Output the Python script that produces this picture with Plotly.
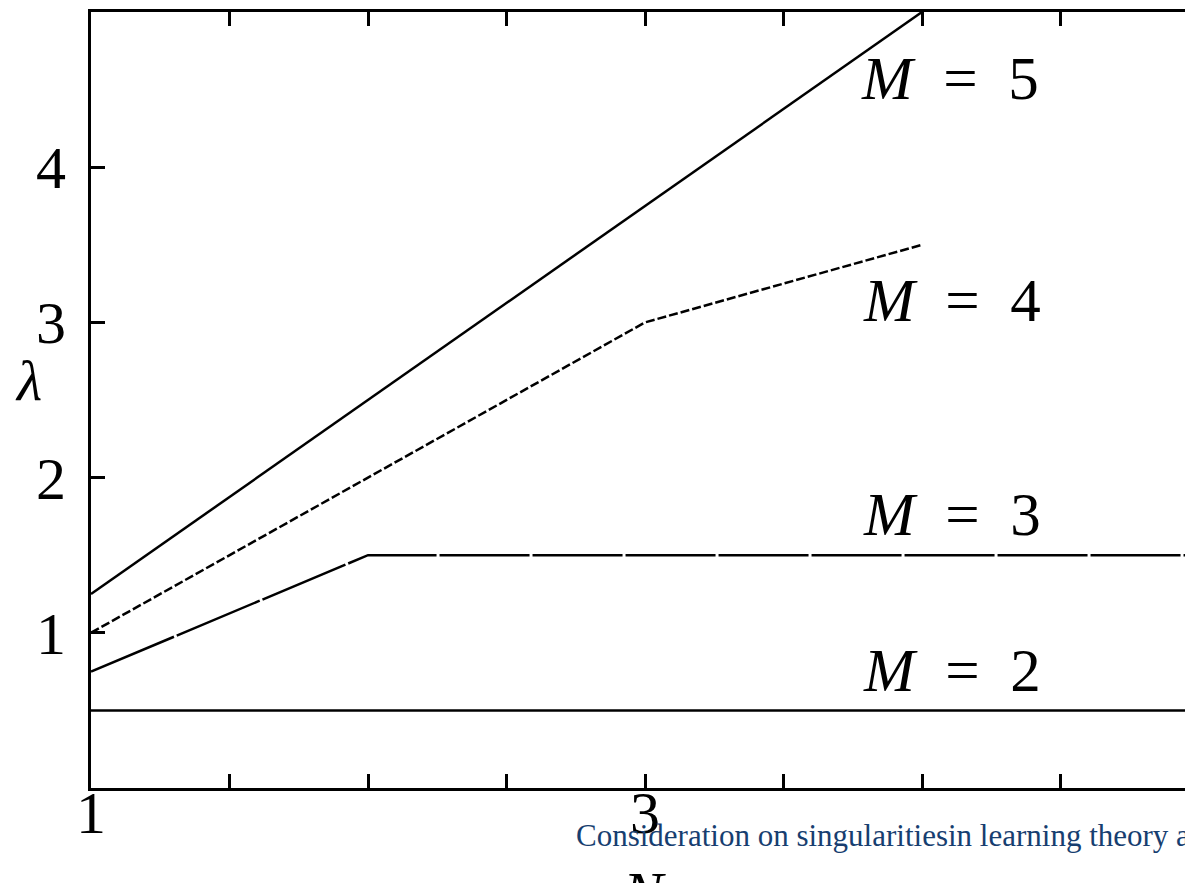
import plotly.graph_objects as go

# ---- data ----
N_m2 = [1, 5]
lam_m2 = [0.5, 0.5]
N_m3 = [1, 2, 5]
lam_m3 = [0.75, 1.5, 1.5]
N_m4 = [1, 2, 3, 4]
lam_m4 = [1.0, 2.0, 3.0, 3.5]
N_m5 = [1, 4]
lam_m5 = [1.25, 5.0]

series_labels = ["<i>M</i>&nbsp; =&nbsp; 5", "<i>M</i>&nbsp; =&nbsp; 4",
                 "<i>M</i>&nbsp; =&nbsp; 3", "<i>M</i>&nbsp; =&nbsp; 2"]
label_x = [4.10, 4.11, 4.11, 4.11]
label_y = [4.57, 3.14, 1.76, 0.76]

x_tickvals = [1, 1.5, 2, 2.5, 3, 3.5, 4, 4.5, 5]
x_ticktext = ["1", "", "", "", "3", "", "", "", "5"]
y_tickvals = [1, 2, 3, 4]
y_ticktext = ["1", "2", "3", "4"]

caption = "Consideration on singularitiesin learning theory and the learning coefficient"

FONT = "Liberation Serif"
W, H = 1185, 883
L, R, T, B = 91, 0, 12, 95

plot_w = W - L - R
plot_h = H - T - B

def px(xp):
    return (xp - L) / plot_w

def py(yp):
    return (H - B - yp) / plot_h

fig = go.Figure()
line_common = dict(color="black", width=2.5)
fig.add_trace(go.Scatter(x=N_m2, y=lam_m2, mode="lines", line=dict(**line_common, dash="solid")))
fig.add_trace(go.Scatter(x=N_m3, y=lam_m3, mode="lines", line=dict(**line_common, dash="90px,3px")))
fig.add_trace(go.Scatter(x=N_m4, y=lam_m4, mode="lines", line=dict(**line_common, dash="9px,3px")))
fig.add_trace(go.Scatter(x=N_m5, y=lam_m5, mode="lines", line=dict(**line_common, dash="solid")))

for txt, xx, yy in zip(series_labels, label_x, label_y):
    fig.add_annotation(x=xx, y=yy, xref="x", yref="y", text=txt, showarrow=False,
                       font=dict(family=FONT, size=61, color="black"),
                       xanchor="center", yanchor="middle")

# tick label "5" lies just beyond the visible range
fig.add_annotation(x=x_tickvals[-1], y=py(820), xref="x", yref="paper", text=x_ticktext[-1],
                   showarrow=False, font=dict(family=FONT, size=60, color="black"),
                   xanchor="center", yanchor="middle", xshift=-3)

# axis titles
fig.add_annotation(x=px(28), y=py(380), xref="paper", yref="paper", text="<i>λ</i>", showarrow=False,
                   font=dict(family=FONT, size=58, color="black"), xanchor="center", yanchor="middle")
fig.add_annotation(x=px(644), y=py(893), xref="paper", yref="paper", text="<i>N</i>", showarrow=False,
                   font=dict(family=FONT, size=60, color="black"), xanchor="center", yanchor="middle")
# caption overlay
fig.add_annotation(x=px(574), y=py(835), xref="paper", yref="paper", text=caption, showarrow=False,
                   font=dict(family=FONT, size=31, color="#173e70"), xanchor="left", yanchor="middle")

x_end = 1 + (W - L) / 277.0
fig.update_xaxes(range=[1, x_end], tickmode="array", tickvals=x_tickvals, ticktext=x_ticktext,
                 ticks="inside", ticklen=14, tickwidth=3, tickcolor="black",
                 showline=True, linewidth=3, linecolor="black", mirror="ticks",
                 showgrid=False, zeroline=False, ticklabelstandoff=-30,
                 tickfont=dict(family=FONT, size=60, color="black"))
fig.update_yaxes(range=[0, 5], tickmode="array", tickvals=y_tickvals, ticktext=y_ticktext,
                 ticks="inside", ticklen=14, tickwidth=3, tickcolor="black",
                 showline=True, linewidth=3, linecolor="black", mirror=False,
                 showgrid=False, zeroline=False, ticklabelstandoff=10,
                 tickfont=dict(family=FONT, size=60, color="black"))

fig.update_layout(width=W, height=H, margin=dict(l=L, r=R, t=T, b=B, pad=0),
                  paper_bgcolor="white", plot_bgcolor="white", showlegend=False)

fig.write_html("out.html", config={"displayModeBar": False},
               post_script="document.body.style.margin='0';document.body.style.overflow='hidden';")
